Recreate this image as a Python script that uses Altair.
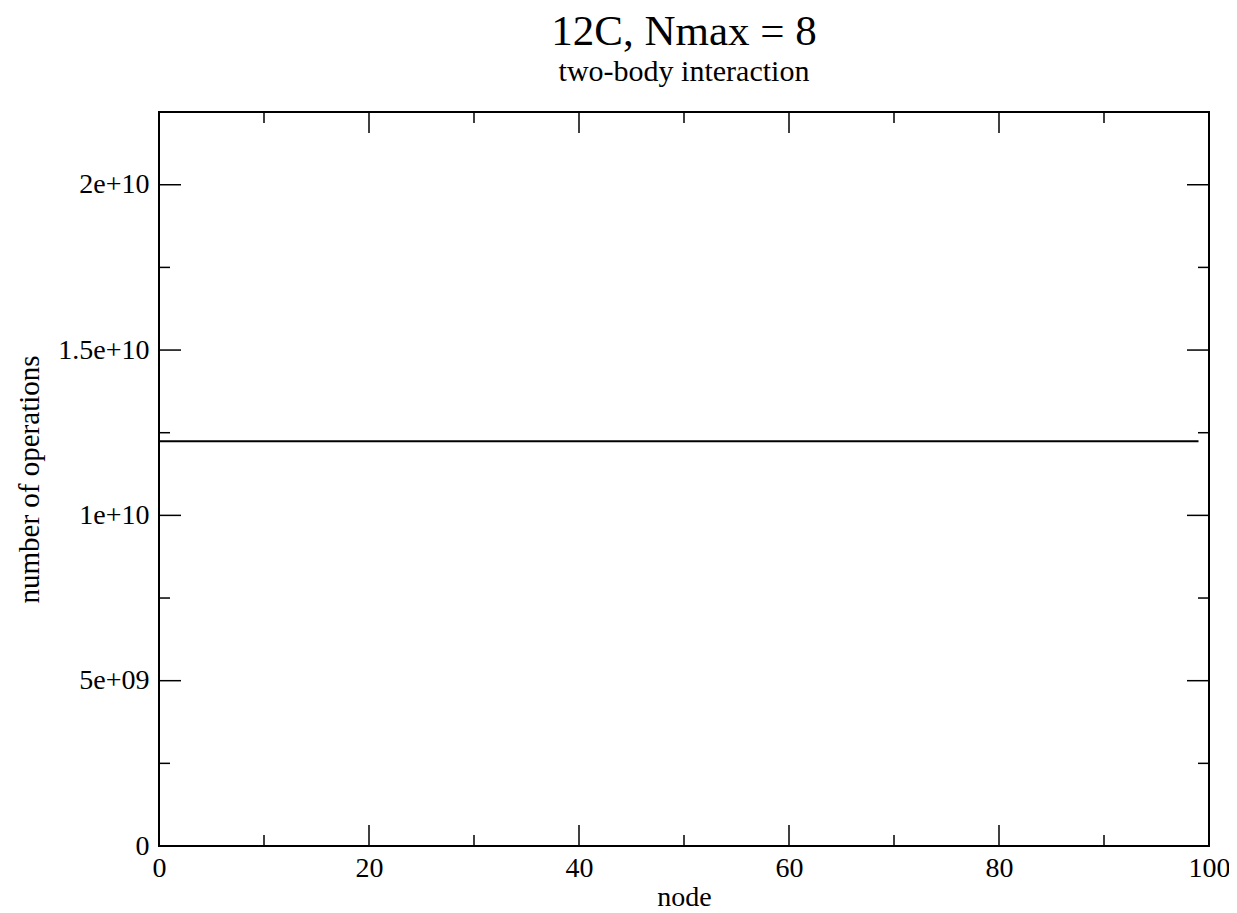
import altair as alt
import pandas as pd

# data
nodes = [0, 99]
operations = [1.224e10, 1.224e10]

x_major = [0, 20, 40, 60, 80, 100]
x_minor = [10, 30, 50, 70, 90]
y_major = [0, 5e9, 1e10, 1.5e10, 2e10]
y_major_labels = ["0", "5e+09", "1e+10", "1.5e+10", "2e+10"]
y_minor = [2.5e9, 7.5e9, 1.25e10, 1.75e10]

X_DOMAIN = [0, 100]
Y_DOMAIN = [0, 2.22e10]
W, H = 1050, 734
FONT = "Liberation Serif"

df = pd.DataFrame({"node": nodes, "ops": operations})

label_expr = "''"
for v, l in reversed(list(zip(y_major, y_major_labels))):
    label_expr = f"(abs(datum.value - {v}) < 1 ? '{l}' : {label_expr})"

xs = alt.Scale(domain=X_DOMAIN, nice=False, zero=False)
ys = alt.Scale(domain=Y_DOMAIN, nice=False, zero=False)

line = alt.Chart(df).mark_line(color="black", strokeWidth=2).encode(
    x=alt.X("node:Q", scale=xs, title="node",
            axis=alt.Axis(values=x_major, grid=False, ticks=False, domain=False,
                          labelFont=FONT, labelFontSize=28, labelColor="black",
                          labelPadding=8, titleFont=FONT, titleFontSize=28,
                          titleFontWeight="normal", titleColor="black", titlePadding=1,
                          labelFlush=False, labelOverlap=False, format="d")),
    y=alt.Y("ops:Q", scale=ys, title="number of operations",
            axis=alt.Axis(values=y_major, grid=False, ticks=False, domain=False,
                          labelExpr=label_expr, labelBaseline="middle",
                          labelFont=FONT, labelFontSize=28, labelColor="black",
                          labelPadding=10, titleFont=FONT, titleFontSize=29,
                          titleFontWeight="normal", titleColor="black", titlePadding=13,
                          labelFlush=False, labelOverlap=False)),
)

def xticks(vals, length):
    d = pd.DataFrame({"v": vals})
    bottom = alt.Chart(d).mark_rule(color="black", strokeWidth=1.5).encode(
        x=alt.X("v:Q", scale=xs, axis=None), y=alt.value(H), y2=alt.value(H - length))
    top = alt.Chart(d).mark_rule(color="black", strokeWidth=1.5).encode(
        x=alt.X("v:Q", scale=xs, axis=None), y=alt.value(0), y2=alt.value(length))
    return [bottom, top]

def yticks(vals, length):
    d = pd.DataFrame({"v": vals})
    left = alt.Chart(d).mark_rule(color="black", strokeWidth=1.5).encode(
        y=alt.Y("v:Q", scale=ys, axis=None), x=alt.value(0), x2=alt.value(length))
    right = alt.Chart(d).mark_rule(color="black", strokeWidth=1.5).encode(
        y=alt.Y("v:Q", scale=ys, axis=None), x=alt.value(W), x2=alt.value(W - length))
    return [left, right]

layers = [line] + xticks(x_major, 21) + xticks(x_minor, 11) + yticks(y_major, 22) + yticks(y_minor, 11)

chart = alt.layer(*layers).resolve_axis(x="independent", y="independent").properties(
    width=W, height=H,
    title=alt.TitleParams(text="12C, Nmax = 8", subtitle="two-body interaction",
                          font=FONT, fontSize=43, fontWeight="normal", color="black",
                          subtitleFont=FONT, subtitleFontSize=30, subtitleColor="black",
                          subtitlePadding=3, offset=24, anchor="middle"),
    autosize=alt.AutoSizeParams(type="none"),
    padding={"left": 151, "top": 104, "right": 20, "bottom": 67},
    background="white",
).configure_view(stroke="black", strokeWidth=2)

chart.save("out.html", embed_options={"renderer": "svg", "actions": False})
